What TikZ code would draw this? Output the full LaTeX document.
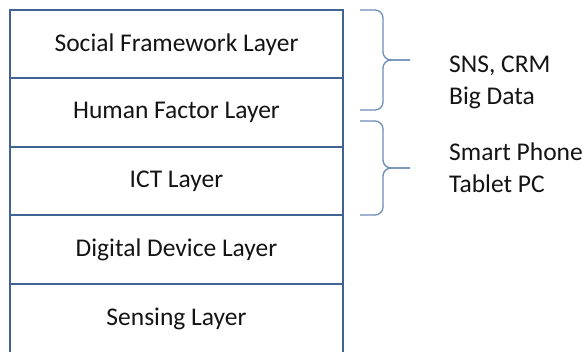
\documentclass[tikz,border=0pt]{standalone}
\usepackage{fontspec}
\setmainfont{Carlito}
\definecolor{layerline}{HTML}{3F6392}
\definecolor{braceline}{HTML}{6A8CB8}
\definecolor{txt}{HTML}{141414}
\begin{document}
\begin{tikzpicture}[x=1pt,y=-1pt,
  layer/.style={draw=layerline, line width=2pt, minimum width=333pt,
    minimum height=68.5pt, inner sep=0pt, text=txt,
    font=\fontsize{25.5}{30}\selectfont},
  bracepath/.style={draw=braceline, line width=1.3pt, rounded corners=8pt},
  sidetext/.style={anchor=west, align=left, text=txt, inner sep=0pt,
    font=\fontsize{25.5}{32}\selectfont}]
\useasboundingbox (0,0) rectangle (586,352);
\clip (0,0) rectangle (586,352);
\fill[white] (0,0) rectangle (586,352);
% stacked layers
\node[layer] (social)  at (176.5,44.25)  {Social Framework Layer};
\node[layer] (human)   at (176.5,112.75) {Human Factor Layer};
\node[layer] (ict)     at (176.5,181.25) {ICT Layer};
\node[layer] (digital) at (176.5,249.75) {Digital Device Layer};
\node[layer, minimum height=70pt] (sensing) at (176.5,319) {Sensing Layer};
% braces and their labels
\coordinate (b1tip) at (410,60);
\coordinate (b2tip) at (410,168);
\draw[bracepath] (360,10) -| (383,60) -- (b1tip);
\draw[bracepath] (360,110) -| (383,60) -- (b1tip);
\draw[bracepath] (360,121) -| (383,168) -- (b2tip);
\draw[bracepath] (360,215) -| (383,168) -- (b2tip);
\node[sidetext] (upper) at (449,82)  {SNS, CRM\\Big Data};
\node[sidetext] (lower) at (449,168) {Smart Phone\\Tablet PC};
\end{tikzpicture}
\end{document}
